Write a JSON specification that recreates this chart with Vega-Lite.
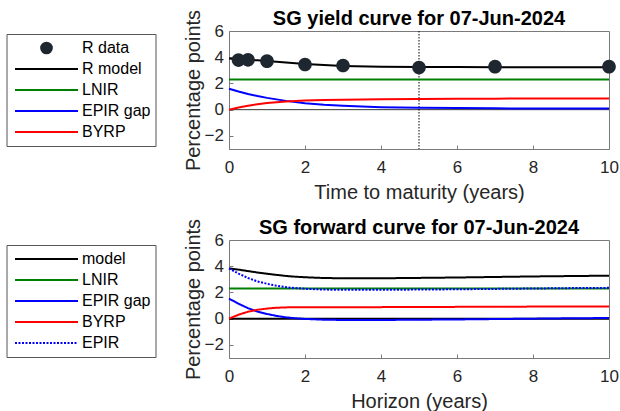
{
  "$schema": "https://vega.github.io/schema/vega-lite/v6.json",
  "background": "white",
  "padding": {"left": 5, "top": 8, "right": 5, "bottom": 0},
  "spacing": 14,
  "config": {
    "font": "Liberation Sans",
    "view": {"stroke": "#7a7a7a", "strokeWidth": 1},
    "axis": {
      "grid": false,
      "domain": false,
      "tickColor": "#7a7a7a",
      "tickSize": -4,
      "labelFontSize": 17,
      "labelColor": "#262626",
      "labelPadding": 14,
      "labelOverlap": false,
      "labelFlush": false,
      "titleFontSize": 20,
      "titleFontWeight": "normal",
      "titleColor": "#262626",
      "titlePadding": 7
    },
    "axisY": {"labelPadding": 9.5, "titlePadding": 0.5},
    "title": {"fontSize": 20, "fontWeight": "bold", "color": "#000000", "offset": -19.5},
    "legend": {
      "orient": "none",
      "labelFontSize": 16,
      "labelColor": "#000000",
      "strokeColor": "#555555",
      "fillColor": "white",
      "padding": 5,
      "symbolType": "stroke",
      "symbolSize": 3969,
      "symbolStrokeWidth": 2,
      "clipHeight": 18,
      "rowPadding": 3,
      "labelOffset": 3,
      "symbolOffset": 2.5
    }
  },
  "datasets": {
    "yieldCurve": [
      {"h": 0, "series": "R model", "v": 3.9}, {"h": 0.25, "series": "R model", "v": 3.85}, {"h": 0.5, "series": "R model", "v": 3.8}, {"h": 0.75, "series": "R model", "v": 3.76}, {"h": 1, "series": "R model", "v": 3.71}, {"h": 1.5, "series": "R model", "v": 3.6}, {"h": 2, "series": "R model", "v": 3.48}, {"h": 2.5, "series": "R model", "v": 3.4}, {"h": 3, "series": "R model", "v": 3.34}, {"h": 4, "series": "R model", "v": 3.28}, {"h": 5, "series": "R model", "v": 3.25}, {"h": 6, "series": "R model", "v": 3.25}, {"h": 7, "series": "R model", "v": 3.24}, {"h": 8, "series": "R model", "v": 3.24}, {"h": 9, "series": "R model", "v": 3.24}, {"h": 10, "series": "R model", "v": 3.24},
      {"h": 0, "series": "LNIR", "v": 2.3}, {"h": 10, "series": "LNIR", "v": 2.3},
      {"h": 0, "series": "EPIR gap", "v": 1.6}, {"h": 0.25, "series": "EPIR gap", "v": 1.39}, {"h": 0.5, "series": "EPIR gap", "v": 1.2}, {"h": 0.75, "series": "EPIR gap", "v": 1.04}, {"h": 1, "series": "EPIR gap", "v": 0.9}, {"h": 1.5, "series": "EPIR gap", "v": 0.67}, {"h": 2, "series": "EPIR gap", "v": 0.49}, {"h": 2.5, "series": "EPIR gap", "v": 0.37}, {"h": 3, "series": "EPIR gap", "v": 0.29}, {"h": 4, "series": "EPIR gap", "v": 0.19}, {"h": 5, "series": "EPIR gap", "v": 0.14}, {"h": 6, "series": "EPIR gap", "v": 0.12}, {"h": 7, "series": "EPIR gap", "v": 0.1}, {"h": 8, "series": "EPIR gap", "v": 0.09}, {"h": 9, "series": "EPIR gap", "v": 0.08}, {"h": 10, "series": "EPIR gap", "v": 0.08},
      {"h": 0, "series": "BYRP", "v": 0}, {"h": 0.25, "series": "BYRP", "v": 0.16}, {"h": 0.5, "series": "BYRP", "v": 0.3}, {"h": 0.75, "series": "BYRP", "v": 0.42}, {"h": 1, "series": "BYRP", "v": 0.51}, {"h": 1.5, "series": "BYRP", "v": 0.63}, {"h": 2, "series": "BYRP", "v": 0.69}, {"h": 2.5, "series": "BYRP", "v": 0.73}, {"h": 3, "series": "BYRP", "v": 0.75}, {"h": 4, "series": "BYRP", "v": 0.79}, {"h": 5, "series": "BYRP", "v": 0.81}, {"h": 6, "series": "BYRP", "v": 0.83}, {"h": 7, "series": "BYRP", "v": 0.84}, {"h": 8, "series": "BYRP", "v": 0.85}, {"h": 9, "series": "BYRP", "v": 0.86}, {"h": 10, "series": "BYRP", "v": 0.86}
    ],
    "yieldData": [
      {"h": 0.25, "series": "R data", "v": 3.78}, {"h": 0.5, "series": "R data", "v": 3.8}, {"h": 1, "series": "R data", "v": 3.7}, {"h": 2, "series": "R data", "v": 3.45},
      {"h": 3, "series": "R data", "v": 3.37}, {"h": 5, "series": "R data", "v": 3.21}, {"h": 7, "series": "R data", "v": 3.28}, {"h": 10, "series": "R data", "v": 3.28}
    ],
    "forwardCurve": [
      {"h": 0, "series": "model", "v": 3.83}, {"h": 0.25, "series": "model", "v": 3.74}, {"h": 0.5, "series": "model", "v": 3.63}, {"h": 0.75, "series": "model", "v": 3.52}, {"h": 1, "series": "model", "v": 3.43}, {"h": 1.25, "series": "model", "v": 3.34}, {"h": 1.5, "series": "model", "v": 3.26}, {"h": 1.75, "series": "model", "v": 3.2}, {"h": 2, "series": "model", "v": 3.16}, {"h": 2.5, "series": "model", "v": 3.1}, {"h": 3, "series": "model", "v": 3.08}, {"h": 4, "series": "model", "v": 3.08}, {"h": 5, "series": "model", "v": 3.11}, {"h": 6, "series": "model", "v": 3.14}, {"h": 7, "series": "model", "v": 3.18}, {"h": 8, "series": "model", "v": 3.22}, {"h": 9, "series": "model", "v": 3.25}, {"h": 10, "series": "model", "v": 3.28},
      {"h": 0, "series": "LNIR", "v": 2.3}, {"h": 10, "series": "LNIR", "v": 2.3},
      {"h": 0, "series": "EPIR gap", "v": 1.53}, {"h": 0.25, "series": "EPIR gap", "v": 1.14}, {"h": 0.5, "series": "EPIR gap", "v": 0.8}, {"h": 0.75, "series": "EPIR gap", "v": 0.54}, {"h": 1, "series": "EPIR gap", "v": 0.36}, {"h": 1.25, "series": "EPIR gap", "v": 0.21}, {"h": 1.5, "series": "EPIR gap", "v": 0.1}, {"h": 1.75, "series": "EPIR gap", "v": 0.03}, {"h": 2, "series": "EPIR gap", "v": -0.02}, {"h": 2.5, "series": "EPIR gap", "v": -0.08}, {"h": 3, "series": "EPIR gap", "v": -0.1}, {"h": 4, "series": "EPIR gap", "v": -0.1}, {"h": 5, "series": "EPIR gap", "v": -0.08}, {"h": 6, "series": "EPIR gap", "v": -0.06}, {"h": 7, "series": "EPIR gap", "v": -0.03}, {"h": 8, "series": "EPIR gap", "v": 0}, {"h": 9, "series": "EPIR gap", "v": 0.03}, {"h": 10, "series": "EPIR gap", "v": 0.05},
      {"h": 0, "series": "BYRP", "v": 0}, {"h": 0.25, "series": "BYRP", "v": 0.3}, {"h": 0.5, "series": "BYRP", "v": 0.53}, {"h": 0.75, "series": "BYRP", "v": 0.68}, {"h": 1, "series": "BYRP", "v": 0.77}, {"h": 1.25, "series": "BYRP", "v": 0.83}, {"h": 1.5, "series": "BYRP", "v": 0.86}, {"h": 1.75, "series": "BYRP", "v": 0.87}, {"h": 2, "series": "BYRP", "v": 0.88}, {"h": 2.5, "series": "BYRP", "v": 0.88}, {"h": 3, "series": "BYRP", "v": 0.88}, {"h": 4, "series": "BYRP", "v": 0.88}, {"h": 5, "series": "BYRP", "v": 0.89}, {"h": 6, "series": "BYRP", "v": 0.9}, {"h": 7, "series": "BYRP", "v": 0.91}, {"h": 8, "series": "BYRP", "v": 0.92}, {"h": 9, "series": "BYRP", "v": 0.92}, {"h": 10, "series": "BYRP", "v": 0.93},
      {"h": 0, "series": "EPIR", "v": 3.83}, {"h": 0.25, "series": "EPIR", "v": 3.44}, {"h": 0.5, "series": "EPIR", "v": 3.1}, {"h": 0.75, "series": "EPIR", "v": 2.84}, {"h": 1, "series": "EPIR", "v": 2.66}, {"h": 1.25, "series": "EPIR", "v": 2.51}, {"h": 1.5, "series": "EPIR", "v": 2.4}, {"h": 1.75, "series": "EPIR", "v": 2.33}, {"h": 2, "series": "EPIR", "v": 2.28}, {"h": 2.5, "series": "EPIR", "v": 2.22}, {"h": 3, "series": "EPIR", "v": 2.2}, {"h": 4, "series": "EPIR", "v": 2.2}, {"h": 5, "series": "EPIR", "v": 2.22}, {"h": 6, "series": "EPIR", "v": 2.24}, {"h": 7, "series": "EPIR", "v": 2.27}, {"h": 8, "series": "EPIR", "v": 2.3}, {"h": 9, "series": "EPIR", "v": 2.33}, {"h": 10, "series": "EPIR", "v": 2.35}
    ]
  },
  "resolve": {
    "scale": {"color": "independent", "shape": "independent", "strokeDash": "independent", "x": "independent", "y": "independent"},
    "legend": {"color": "independent", "shape": "independent", "strokeDash": "independent"}
  },
  "vconcat": [
    {
      "width": 380,
      "height": 118,
      "title": "SG yield curve for 07-Jun-2024",
      "layer": [
        {
          "data": {"values": [{}]},
          "mark": {"type": "rule", "color": "#333333", "strokeWidth": 1},
          "encoding": {
            "y": {"datum": 0, "type": "quantitative", "scale": {"domain": [-3, 6], "nice": false, "zero": false}, "axis": {"values": [-2, 0, 2, 4, 6], "labelOverlap": false, "title": "Percentage points"}}
          }
        },
        {
          "data": {"values": [{}]},
          "mark": {"type": "rule", "color": "#000000", "strokeWidth": 1, "strokeDash": [1.5, 1.5]},
          "encoding": {
            "x": {"datum": 5, "type": "quantitative", "scale": {"domain": [0, 10], "nice": false}, "axis": {"values": [0, 2, 4, 6, 8, 10], "title": "Time to maturity (years)"}}
          }
        },
        {
          "data": {"name": "yieldCurve"},
          "mark": {"type": "line", "strokeWidth": 2},
          "encoding": {
            "x": {"field": "h", "type": "quantitative", "scale": {"domain": [0, 10], "nice": false}, "axis": {"values": [0, 2, 4, 6, 8, 10], "title": "Time to maturity (years)"}},
            "y": {"field": "v", "type": "quantitative", "scale": {"domain": [-3, 6], "nice": false, "zero": false}, "axis": {"values": [-2, 0, 2, 4, 6], "labelOverlap": false, "title": "Percentage points"}},
            "color": {
              "field": "series",
              "type": "nominal",
              "scale": {
                "domain": ["R data", "R model", "LNIR", "EPIR gap", "BYRP"],
                "range": ["#1e2630", "#000000", "#008000", "#0000ff", "#ff0000"]
              },
              "legend": {"title": null, "legendX": -222.5, "legendY": 3}
            }
          }
        },
        {
          "data": {"name": "yieldData"},
          "mark": {"type": "point", "filled": true, "size": 6400, "opacity": 1},
          "encoding": {
            "x": {"field": "h", "type": "quantitative", "scale": {"domain": [0, 10], "nice": false}, "axis": {"values": [0, 2, 4, 6, 8, 10], "title": "Time to maturity (years)"}},
            "y": {"field": "v", "type": "quantitative", "scale": {"domain": [-3, 6], "nice": false, "zero": false}, "axis": {"values": [-2, 0, 2, 4, 6], "labelOverlap": false, "title": "Percentage points"}},
            "color": {
              "field": "series",
              "type": "nominal",
              "scale": {
                "domain": ["R data", "R model", "LNIR", "EPIR gap", "BYRP"],
                "range": ["#1e2630", "#000000", "#008000", "#0000ff", "#ff0000"]
              },
              "legend": {"title": null, "legendX": -222.5, "legendY": 3}
            },
            "shape": {
              "field": "series",
              "type": "nominal",
              "scale": {
                "domain": ["R data", "R model", "LNIR", "EPIR gap", "BYRP"],
                "range": ["M-0.17,0A0.17,0.17,0,1,0,0.17,0A0.17,0.17,0,1,0,-0.17,0Z", "stroke", "stroke", "stroke", "stroke"]
              },
              "legend": {"title": null, "legendX": -222.5, "legendY": 3}
            }
          }
        }
      ]
    },
    {
      "width": 380,
      "height": 118,
      "title": "SG forward curve for 07-Jun-2024",
      "layer": [
        {
          "data": {"values": [{}]},
          "mark": {"type": "rule", "color": "#000000", "strokeWidth": 2},
          "encoding": {
            "y": {"datum": 0, "type": "quantitative", "scale": {"domain": [-3, 6], "nice": false, "zero": false}, "axis": {"values": [-2, 0, 2, 4, 6], "labelOverlap": false, "title": "Percentage points"}}
          }
        },
        {
          "data": {"name": "forwardCurve"},
          "mark": {"type": "line", "strokeWidth": 2},
          "encoding": {
            "x": {"field": "h", "type": "quantitative", "scale": {"domain": [0, 10], "nice": false}, "axis": {"values": [0, 2, 4, 6, 8, 10], "title": "Horizon (years)"}},
            "y": {"field": "v", "type": "quantitative", "scale": {"domain": [-3, 6], "nice": false, "zero": false}, "axis": {"values": [-2, 0, 2, 4, 6], "labelOverlap": false, "title": "Percentage points"}},
            "color": {
              "field": "series",
              "type": "nominal",
              "scale": {
                "domain": ["model", "LNIR", "EPIR gap", "BYRP", "EPIR"],
                "range": ["#000000", "#008000", "#0000ff", "#ff0000", "#0000ff"]
              },
              "legend": {"title": null, "legendX": -222.5, "legendY": 5}
            },
            "strokeDash": {
              "field": "series",
              "type": "nominal",
              "scale": {
                "domain": ["model", "LNIR", "EPIR gap", "BYRP", "EPIR"],
                "range": [[1, 0], [1, 0], [1, 0], [1, 0], [2, 1.5]]
              },
              "legend": {"title": null, "legendX": -222.5, "legendY": 5}
            }
          }
        }
      ]
    }
  ]
}
